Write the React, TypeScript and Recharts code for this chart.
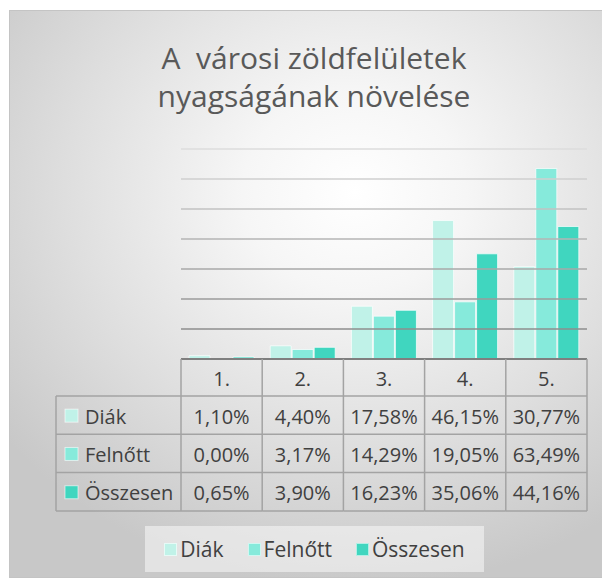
import { BarChart, Bar, XAxis, YAxis, ReferenceLine } from 'recharts'

// ── Data ──────────────────────────────────────────────────────────────────────
const CATEGORIES = ['1.', '2.', '3.', '4.', '5.']
const DIAK = [1.10, 4.40, 17.58, 46.15, 30.77]
const FELNOTT = [0.00, 3.17, 14.29, 19.05, 63.49]
const OSSZESEN = [0.65, 3.90, 16.23, 35.06, 44.16]
const SERIES_NAMES = ['Diák', 'Felnőtt', 'Összesen']
const Y_TICKS = [10, 20, 30, 40, 50, 60, 70]
const TITLE_LINES = ['A  városi zöldfelületek', 'nyagságának növelése']

// ── Styles / layout ───────────────────────────────────────────────────────────
const COLORS = ['#c0f2e8', '#86eadb', '#40d6bf']
const FONT = "'Open Sans', 'Noto Sans', sans-serif"
const TEXT = '#404040'
const BORDER = '#a3a3a3'

const W = 596
const H = 568
const PLOT_LEFT = 172
const PLOT_RIGHT = 578
const PLOT_TOP = 139
const PLOT_BOTTOM = 349
const CAT_W = (PLOT_RIGHT - PLOT_LEFT) / CATEGORIES.length
const LABEL_LEFT = 47
const HEADER_H = 37
const ROW_H = 38.3
const AXIS_H = Math.round(HEADER_H + ROW_H * 3)

const SERIES = [DIAK, FELNOTT, OSSZESEN]

const data = CATEGORIES.map((cat, i) => ({
  cat,
  diak: DIAK[i],
  felnott: FELNOTT[i],
  osszesen: OSSZESEN[i],
}))

const fmtPct = (v: number) => v.toFixed(2).replace('.', ',') + '%'

// grid gets darker toward the bottom
const gridColor = (i: number) => {
  const c = Math.round(0x8e + (0xdc - 0x8e) * (i / (Y_TICKS.length - 1)))
  return `rgb(${c},${c},${c})`
}

// ── Data table drawn as the x-axis ticks ──────────────────────────────────────
function TableTick(props: any) {
  const { x, index } = props
  const left = x - CAT_W / 2
  const right = x + CAT_W / 2
  const top = PLOT_BOTTOM
  const headBottom = top + HEADER_H
  const rowY = (r: number) => headBottom + ROW_H * r
  const bottom = rowY(3)
  const last = index === CATEGORIES.length - 1

  return (
    <g>
      <line x1={left} y1={top} x2={left} y2={bottom} stroke={BORDER} strokeWidth={1.5} />
      {last && <line x1={right} y1={top} x2={right} y2={bottom} stroke={BORDER} strokeWidth={1.5} />}
      {[0, 1, 2, 3].map((r) => (
        <line key={r} x1={left} y1={rowY(r)} x2={right} y2={rowY(r)} stroke={BORDER} strokeWidth={1.5} />
      ))}
      <text x={x} y={top + HEADER_H / 2 + 1} textAnchor="middle" dominantBaseline="central"
        fontFamily={FONT} fontSize={20} fill={TEXT}>
        {CATEGORIES[index]}
      </text>
      {SERIES.map((s, r) => (
        <text key={r} x={x} y={rowY(r) + ROW_H / 2 + 1} textAnchor="middle" dominantBaseline="central"
          fontFamily={FONT} fontSize={20} fill={TEXT}>
          {fmtPct(s[index])}
        </text>
      ))}
      {index === 0 && (
        <g>
          <line x1={LABEL_LEFT} y1={headBottom} x2={LABEL_LEFT} y2={bottom} stroke={BORDER} strokeWidth={1.5} />
          {[0, 1, 2, 3].map((r) => (
            <line key={r} x1={LABEL_LEFT} y1={rowY(r)} x2={left} y2={rowY(r)} stroke={BORDER} strokeWidth={1.5} />
          ))}
          {SERIES_NAMES.map((name, r) => (
            <g key={name}>
              <rect x={LABEL_LEFT + 9} y={rowY(r) + ROW_H / 2 - 6} width={13} height={13}
                fill={COLORS[r]} stroke="#ffffff" strokeOpacity={0.6} />
              <text x={LABEL_LEFT + 29} y={rowY(r) + ROW_H / 2 + 1} dominantBaseline="central"
                fontFamily={FONT} fontSize={20} fill={TEXT}>
                {name}
              </text>
            </g>
          ))}
        </g>
      )}
    </g>
  )
}

export default function App() {
  return (
    <div style={{
      position: 'relative', width: W, height: H, marginLeft: 1, marginTop: 2,
      boxSizing: 'border-box', border: '1px solid #c4c4c4',
      background: 'radial-gradient(ellipse 75% 70% at 58% 32%, #ffffff 0%, #f6f6f6 25%, #dedede 65%, #c8c8c8 100%)',
      fontFamily: FONT,
    }}>
      <div style={{
        position: 'absolute', left: 6, top: 28, width: W, textAlign: 'center',
        fontSize: 30, lineHeight: '38px', color: '#595959', whiteSpace: 'pre',
      }}>
        {TITLE_LINES.map((l) => <div key={l}>{l}</div>)}
      </div>

      <div style={{ position: 'absolute', left: -1, top: -1 }}>
        <BarChart width={W} height={H} data={data}
          margin={{ top: PLOT_TOP, right: W - PLOT_RIGHT, left: PLOT_LEFT, bottom: H - PLOT_BOTTOM - AXIS_H }}
          barCategoryGap={8} barGap={1}>
          <YAxis hide domain={[0, 70]} ticks={Y_TICKS} />
          {Y_TICKS.map((t, i) => (
            <ReferenceLine key={t} y={t} stroke={gridColor(i)} strokeWidth={1.5} />
          ))}
          <XAxis dataKey="cat" height={AXIS_H} interval={0} tickLine={false}
            axisLine={{ stroke: '#7f7f7f', strokeWidth: 2 }} tick={<TableTick />} />
          <Bar dataKey="diak" name={SERIES_NAMES[0]} fill={COLORS[0]} stroke="#ffffff" strokeOpacity={0.7} isAnimationActive={false} />
          <Bar dataKey="felnott" name={SERIES_NAMES[1]} fill={COLORS[1]} stroke="#ffffff" strokeOpacity={0.7} isAnimationActive={false} />
          <Bar dataKey="osszesen" name={SERIES_NAMES[2]} fill={COLORS[2]} stroke="#ffffff" strokeOpacity={0.7} isAnimationActive={false} />
        </BarChart>
      </div>

      {/* Legend */}
      <div style={{
        position: 'absolute', left: 135, top: 515, width: 339, height: 46,
        background: 'rgba(245,245,245,0.6)', display: 'flex', alignItems: 'center',
        justifyContent: 'center', gap: 24, fontSize: 21, color: TEXT,
      }}>
        {SERIES_NAMES.map((name, i) => (
          <span key={name} style={{ display: 'flex', alignItems: 'center', gap: 3 }}>
            <span style={{ display: 'inline-block', width: 13, height: 13, background: COLORS[i], border: '1px solid rgba(255,255,255,0.6)', boxSizing: 'border-box' }} />
            {name}
          </span>
        ))}
      </div>
    </div>
  )
}
